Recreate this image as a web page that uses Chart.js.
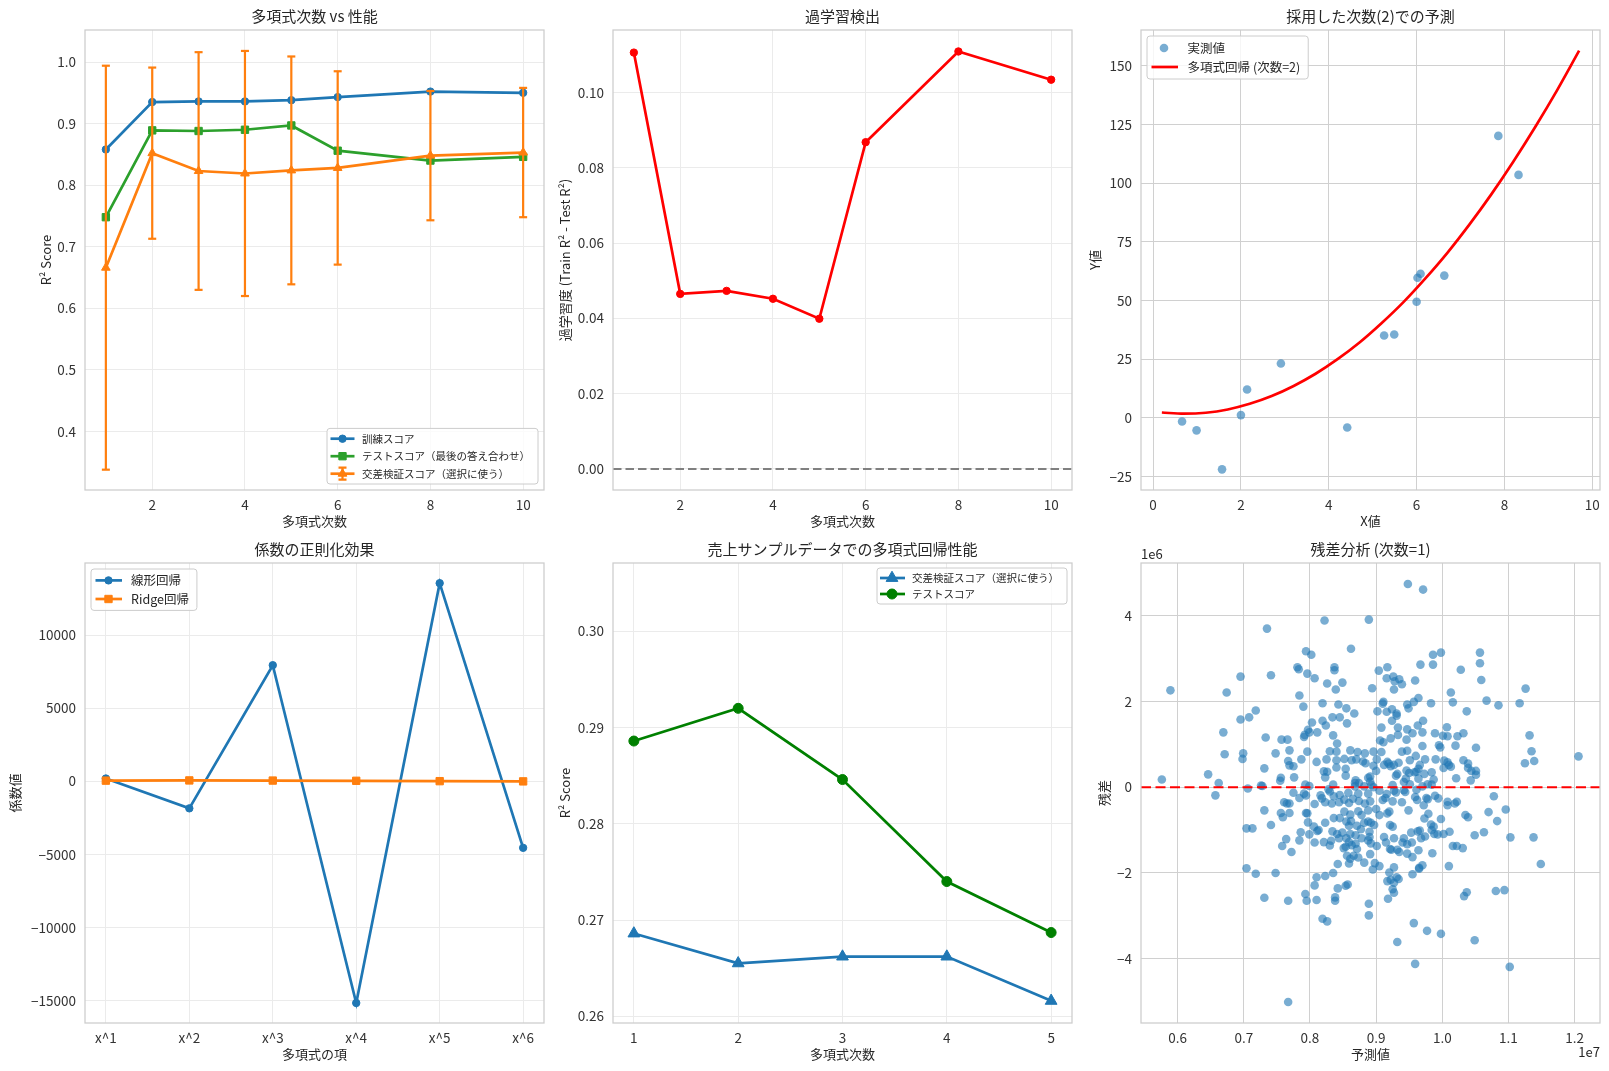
<!DOCTYPE html>
<html lang="ja">
<head>
<meta charset="utf-8">
<title>多項式回帰の評価</title>
<script src="https://cdn.jsdelivr.net/npm/chart.js@4.4.1/dist/chart.umd.min.js"></script>
<style>
  html, body { margin: 0; padding: 0; background: #fff; }
  #fig { position: relative; width: 1609px; height: 1071px; overflow: hidden; background: #fff; }
  .panel { position: absolute; width: 554px; height: 538px; }
</style>
</head>
<body>
<div id="fig">
  <div class="panel" style="left:0px;top:0px"><canvas id="c1"></canvas></div>
  <div class="panel" style="left:528px;top:0px"><canvas id="c2"></canvas></div>
  <div class="panel" style="left:1056px;top:0px"><canvas id="c3"></canvas></div>
  <div class="panel" style="left:0px;top:533px"><canvas id="c4"></canvas></div>
  <div class="panel" style="left:528px;top:533px"><canvas id="c5"></canvas></div>
  <div class="panel" style="left:1056px;top:533px"><canvas id="c6"></canvas></div>
</div>
<script>
// ---- 多項式次数 vs 性能
const degrees = [1, 2, 3, 4, 5, 6, 8, 10];
const trainScores = [0.858, 0.935, 0.936, 0.936, 0.938, 0.943, 0.952, 0.950];
const testScores = [0.748, 0.889, 0.888, 0.890, 0.897, 0.856, 0.840, 0.846];
const cvMeans = [0.666, 0.852, 0.823, 0.819, 0.824, 0.828, 0.848, 0.853];
const cvStds = [0.328, 0.139, 0.193, 0.199, 0.185, 0.157, 0.105, 0.105];

// ---- 過学習検出
const overfitGap = [0.1106, 0.0465, 0.0473, 0.0452, 0.0399, 0.0868, 0.1109, 0.1034];

// ---- 採用した次数(2)での予測
const sampleX = [0.66, 0.99, 1.57, 2.00, 2.14, 2.91, 4.42, 5.26, 5.49, 6.00, 6.02, 6.09, 6.63, 7.86, 8.32];
const sampleY = [-1.5, -5.3, -21.9, 1.2, 12.1, 23.2, -4.1, 35.1, 35.5, 49.5, 59.7, 61.4, 60.6, 120.1, 103.5];
const curveX = [0.2, 0.7, 1.2, 1.7, 2.2, 2.7, 3.2, 3.7, 4.2, 4.7, 5.2, 5.7, 6.2, 6.7, 7.2, 7.7, 8.2, 8.7, 9.2, 9.7];
const curveY = [2.3, 1.8, 2.2, 3.6, 6.0, 9.3, 13.6, 18.8, 25.0, 32.1, 40.3, 49.3, 59.4, 70.3, 82.3, 95.2, 109.1, 123.9, 139.6, 156.4];

// ---- 係数の正則化効果
const termLabels = ['x^1', 'x^2', 'x^3', 'x^4', 'x^5', 'x^6'];
const linearCoefs = [190, -1850, 7940, -15160, 13550, -4550];
const ridgeCoefs = [45, 60, 50, 35, 10, -5];

// ---- 売上サンプルデータでの多項式回帰性能
const salesDegrees = [1, 2, 3, 4, 5];
const salesCv = [0.2686, 0.2655, 0.2662, 0.2662, 0.2616];
const salesTest = [0.2886, 0.2920, 0.2846, 0.2740, 0.2687];

// ---- 残差分析 (次数=1)  予測値は 1e7、残差は 1e6 単位
const predictedValues = [
  0.948,0.971,0.822,0.889,0.735,0.862,0.794,0.802,0.986,0.998,1.057,1.057,0.967,0.986,0.781,0.783,0.837,0.837,0.917,0.904,
  0.695,0.741,0.796,0.807,0.926,0.916,0.935,0.928,1.028,0.959,1.059,0.826,0.849,0.939,1.126,0.894,0.839,0.927,0.589,0.674,
  0.784,1.013,1.067,1.085,1.117,0.790,0.819,0.843,0.911,0.910,0.983,1.016,0.947,0.964,0.957,0.949,0.718,0.708,0.695,0.855,
  0.867,0.902,0.924,0.916,0.931,0.931,1.037,0.834,0.845,0.819,0.924,0.971,0.963,0.803,0.856,0.824,0.908,0.933,1.007,0.947,
  0.797,0.799,0.792,0.811,0.791,0.835,0.955,0.970,0.989,1.001,1.023,1.032,1.008,1.132,0.669,0.733,0.757,0.766,0.922,0.933,
  0.946,0.906,0.911,0.995,1.051,1.020,0.997,0.841,0.769,0.748,0.671,0.699,0.698,0.796,0.830,0.840,0.861,0.872,0.883,0.896,
  0.908,0.939,0.947,0.970,1.135,0.767,0.787,0.810,0.825,0.840,0.852,0.863,0.870,0.880,0.884,0.901,0.917,0.919,0.927,0.934,
  0.951,0.960,0.974,0.990,1.003,1.008,1.010,1.032,1.039,1.139,1.125,1.206,0.769,0.775,0.731,0.821,0.826,0.840,0.854,0.896,
  0.900,0.912,0.922,0.932,0.946,0.950,0.958,0.961,0.966,0.964,0.973,0.984,1.002,1.013,1.039,1.044,1.051,1.051,0.646,0.756,
  0.755,0.776,0.823,0.854,0.869,0.888,0.891,0.930,0.945,0.964,0.987,1.021,1.043,0.576,0.662,0.726,0.728,0.793,0.799,0.835,
  0.868,0.874,0.891,0.893,0.925,0.942,0.951,0.978,0.984,0.706,0.828,0.830,0.868,0.882,0.896,0.905,0.927,0.942,0.961,0.970,
  0.657,0.775,0.791,0.794,0.816,0.836,0.845,0.858,0.873,0.888,0.916,0.914,0.930,0.944,0.959,0.962,0.976,0.978,0.989,0.994,
  1.078,0.784,0.761,0.765,0.769,0.796,0.807,0.818,0.823,0.833,0.844,0.852,0.859,0.865,0.874,0.883,0.891,0.910,0.925,0.939,
  0.972,1.008,1.008,1.019,1.022,0.731,0.756,0.759,0.769,0.794,0.836,0.845,0.852,0.861,0.873,0.878,0.888,0.900,0.905,0.917,
  0.920,0.949,0.979,0.973,1.070,1.083,1.096,1.035,1.039,0.704,0.713,0.741,0.797,0.806,0.823,0.855,0.859,0.862,0.871,0.882,
  0.888,0.892,0.897,0.921,0.925,0.983,0.987,0.984,0.998,0.786,0.799,0.811,0.813,0.834,0.841,0.849,0.861,0.869,0.877,0.890,
  0.890,0.912,0.942,0.953,0.963,0.966,0.974,0.988,0.993,1.011,1.002,1.049,1.063,1.103,1.138,0.764,0.784,0.807,0.821,0.832,
  0.844,0.855,0.859,0.869,0.878,0.888,0.892,0.901,0.915,0.927,0.940,0.947,0.954,0.968,0.758,0.772,0.830,0.851,0.854,0.863,
  0.871,0.891,0.921,0.923,0.932,0.935,0.947,0.955,0.964,0.985,1.016,1.022,1.031,0.856,0.861,0.866,0.873,0.859,0.882,0.898,
  0.905,0.970,0.965,1.010,1.149,0.704,0.718,0.748,0.842,0.835,0.895,0.920,0.927,0.955,0.965,0.810,0.823,0.807,0.842,0.854,
  0.857,0.917,0.922,0.931,0.934,0.927,0.925,0.927,0.731,0.767,0.793,0.795,0.810,0.838,0.838,0.918,0.889,1.033,1.037,1.081,
  1.094,0.819,0.826,0.889,0.957,0.977,0.998,0.932,1.049,0.959,1.102,0.767
];
const residualValues = [
  4.74,4.61,3.89,3.91,3.70,3.23,3.17,3.09,3.09,3.14,3.14,2.89,2.86,2.86,2.80,2.75,2.80,2.73,2.80,2.72,
  2.58,2.61,2.65,2.54,2.58,2.54,2.52,2.47,2.74,2.49,2.50,2.42,2.44,2.40,2.30,2.31,2.28,2.28,2.26,2.21,
  2.14,2.21,2.02,1.91,1.96,1.88,1.96,1.93,1.99,1.95,1.96,1.98,1.93,2.08,1.99,1.84,1.79,1.63,1.58,1.84,
  1.72,1.77,1.82,1.76,1.72,1.67,1.77,1.63,1.63,1.55,1.55,1.55,1.44,1.51,1.49,1.44,1.39,1.39,1.40,1.35,
  1.34,1.28,1.22,1.28,1.17,1.21,1.26,1.28,1.26,1.20,1.19,1.26,1.19,1.21,1.28,1.16,1.11,1.11,1.14,1.22,
  1.11,1.09,1.05,0.98,0.92,0.97,0.93,1.02,0.86,0.79,0.77,0.79,0.66,0.83,0.84,0.83,0.86,0.82,0.79,0.83,
  0.82,0.83,0.85,0.96,0.84,0.61,0.65,0.59,0.65,0.63,0.66,0.63,0.65,0.60,0.56,0.65,0.59,0.55,0.52,0.57,
  0.63,0.73,0.65,0.65,0.62,0.58,0.52,0.63,0.55,0.61,0.56,0.72,0.51,0.49,0.44,0.37,0.36,0.46,0.43,0.50,
  0.38,0.52,0.49,0.31,0.39,0.33,0.35,0.36,0.52,0.43,0.31,0.35,0.45,0.48,0.45,0.38,0.38,0.29,0.30,0.22,
  0.15,0.23,0.23,0.27,0.16,0.22,0.25,0.27,0.20,0.20,0.18,0.21,0.16,0.18,0.10,0.04,0.03,0.06,0.03,0.06,
  0.10,0.10,0.13,0.05,0.05,0.12,0.07,0.07,0.06,-0.03,-0.05,-0.10,0.02,0.02,0.00,-0.08,-0.08,-0.07,-0.06,0.02,
  -0.19,-0.13,-0.15,-0.19,-0.19,-0.21,-0.18,-0.13,-0.15,-0.15,-0.16,-0.25,-0.12,-0.11,-0.23,-0.30,-0.25,-0.28,-0.20,-0.26,
  -0.21,-0.25,-0.35,-0.38,-0.38,-0.61,-0.39,-0.26,-0.35,-0.38,-0.35,-0.29,-0.37,-0.27,-0.32,-0.38,-0.33,-0.30,-0.33,-0.35,
  -0.42,-0.34,-0.42,-0.38,-0.34,-0.54,-0.60,-0.70,-0.60,-0.60,-0.72,-0.72,-0.57,-0.64,-0.56,-0.65,-0.54,-0.51,-0.65,-0.61,
  -0.57,-0.54,-0.62,-0.73,-0.58,-0.79,-0.52,-0.65,-0.70,-0.96,-0.96,-0.88,-0.82,-0.92,-0.83,-0.80,-0.90,-0.79,-0.90,-0.83,
  -0.80,-0.83,-0.88,-0.88,-0.92,-0.87,-0.92,-1.00,-0.74,-1.05,-1.10,-1.02,-1.00,-1.03,-1.09,-1.06,-1.09,-1.12,-0.98,-1.04,
  -1.16,-1.16,-1.19,-1.06,-1.03,-1.01,-1.15,-1.09,-1.10,-1.04,-1.09,-1.12,-1.05,-1.17,-1.17,-1.21,-1.24,-1.29,-1.28,-1.25,
  -1.19,-1.19,-1.28,-1.32,-1.19,-1.24,-1.31,-1.37,-1.29,-1.19,-1.29,-1.33,-1.29,-1.19,-1.37,-1.51,-1.36,-1.42,-1.39,-1.35,
  -1.44,-1.56,-1.44,-1.46,-1.46,-1.51,-1.55,-1.63,-1.47,-1.54,-1.37,-1.37,-1.42,-1.60,-1.67,-1.60,-1.64,-1.78,-1.76,-1.77,
  -1.84,-1.82,-1.90,-1.84,-1.79,-1.89,-2.02,-2.00,-1.79,-2.00,-1.92,-1.99,-1.87,-2.03,-1.88,-2.10,-2.07,-2.29,-2.36,-2.30,
  -2.27,-2.19,-2.16,-2.10,-2.14,-2.23,-2.38,-2.46,-2.58,-2.65,-2.49,-2.65,-2.63,-2.57,-2.65,-2.60,-2.72,-2.54,-2.45,-2.42,
  -2.40,-3.07,-3.13,-2.99,-3.17,-3.35,-3.42,-3.61,-3.57,-4.12,-4.19,-5.01
];

const FONT = '"Noto Sans CJK JP", "Noto Sans", sans-serif';
const BLUE = '#1f77b4', ORANGE = '#ff7f0e', GREEN = '#2ca02c';
const FAINT = '#ebebeb', GRID = '#d0d0d0';

Chart.defaults.font.family = FONT;
Chart.defaults.color = '#333333';

function num(v, d) {
  return (v < -1e-9 ? '\u2212' : '') + Math.abs(v).toFixed(d);
}

function drawMarker(ctx, style, x, y, r, color, alpha) {
  ctx.save();
  ctx.fillStyle = color;
  ctx.strokeStyle = color;
  ctx.lineWidth = 1;
  ctx.beginPath();
  if (style === 'circle') {
    ctx.arc(x, y, r, 0, Math.PI * 2);
  } else if (style === 'rect') {
    const s = r * Math.SQRT1_2;
    ctx.rect(x - s, y - s, 2 * s, 2 * s);
  } else if (style === 'triangle') {
    const a = 2 * Math.PI / 3;
    ctx.moveTo(x, y - r);
    ctx.lineTo(x + r * Math.sin(a), y - r * Math.cos(a));
    ctx.lineTo(x - r * Math.sin(a), y - r * Math.cos(a));
    ctx.closePath();
  }
  if (alpha) {
    ctx.globalAlpha = alpha;
    ctx.fill();
  } else {
    ctx.fill();
    ctx.stroke();
  }
  ctx.restore();
}

function drawLegend(ctx, a, lg) {
  ctx.font = lg.size + 'px ' + FONT;
  let tw = 0;
  lg.items.forEach(it => { tw = Math.max(tw, ctx.measureText(it.label).width); });
  const w = lg.textX + tw + 8;
  const h = lg.row0 * 2 + lg.rowGap * (lg.items.length - 1);
  const x0 = lg.corner[1] === 'l' ? a.left + lg.pad : a.right - lg.pad - w;
  const y0 = lg.corner[0] === 'u' ? a.top + lg.pad : a.bottom - lg.pad - h;
  ctx.beginPath();
  ctx.roundRect(x0, y0, w, h, 3);
  ctx.fillStyle = 'rgba(255,255,255,0.8)';
  ctx.fill();
  ctx.strokeStyle = '#cccccc';
  ctx.lineWidth = 1;
  ctx.stroke();
  lg.items.forEach((it, i) => {
    const cy = y0 + lg.row0 + i * lg.rowGap;
    const mx = x0 + lg.markX;
    if (it.line) {
      ctx.beginPath();
      ctx.moveTo(x0 + lg.lineX0, cy);
      ctx.lineTo(x0 + lg.lineX1, cy);
      ctx.strokeStyle = it.color;
      ctx.lineWidth = 2.7;
      ctx.stroke();
    }
    if (it.errorbar) {
      ctx.beginPath();
      ctx.moveTo(mx, cy - 6); ctx.lineTo(mx, cy + 6);
      ctx.moveTo(mx - 4, cy - 6); ctx.lineTo(mx + 4, cy - 6);
      ctx.moveTo(mx - 4, cy + 6); ctx.lineTo(mx + 4, cy + 6);
      ctx.strokeStyle = it.color;
      ctx.lineWidth = 2.2;
      ctx.stroke();
    }
    if (it.marker) drawMarker(ctx, it.marker, mx, cy, it.r, it.color, it.alpha);
    ctx.fillStyle = '#262626';
    ctx.textAlign = 'left';
    ctx.textBaseline = 'middle';
    ctx.fillText(it.label, x0 + lg.textX, cy);
  });
}

// 各パネルの枠・タイトル・軸ラベル・凡例
const decorSpecs = {};
const decor = {
  id: 'decor',
  afterDatasetsDraw(chart) {
    const o = decorSpecs[chart.canvas.id];
    if (!o) return;
    const ctx = chart.ctx, a = chart.chartArea;
    ctx.save();
    ctx.strokeStyle = '#cccccc';
    ctx.lineWidth = 1.25;
    ctx.strokeRect(a.left, a.top, a.right - a.left, a.bottom - a.top);
    if (o.legend) drawLegend(ctx, a, o.legend);
    ctx.fillStyle = '#262626';
    ctx.textAlign = 'center';
    ctx.textBaseline = 'middle';
    ctx.font = '15px ' + FONT;
    ctx.fillText(o.title, (a.left + a.right) / 2, a.top - 14);
    ctx.font = '13px ' + FONT;
    ctx.fillText(o.xLabel, (a.left + a.right) / 2, a.bottom + 31);
    ctx.save();
    ctx.translate(a.left - o.yGap, (a.top + a.bottom) / 2);
    ctx.rotate(-Math.PI / 2);
    ctx.fillText(o.yLabel, 0, 0);
    ctx.restore();
    ctx.font = '13px ' + FONT;
    if (o.yOffset) {
      ctx.textAlign = 'left';
      ctx.fillText(o.yOffset, a.left, a.top - 9);
    }
    if (o.xOffset) {
      ctx.textAlign = 'right';
      ctx.fillText(o.xOffset, a.right, a.bottom + 29);
    }
    ctx.restore();
  }
};

function axis(pos, min, max, step, fmt, grid) {
  return {
    type: 'linear',
    position: pos,
    min: min,
    max: max,
    grid: { color: grid, lineWidth: 1, drawTicks: false },
    border: { display: false },
    ticks: {
      stepSize: step,
      includeBounds: false,
      autoSkip: false,
      maxRotation: 0,
      padding: pos === 'left' ? 9 : 7,
      color: '#333333',
      font: { size: 13.5 },
      callback: fmt
    },
    // 目盛りは step の倍数だけにする
    afterBuildTicks: s => {
      const t = [];
      for (let k = Math.ceil(min / step - 1e-9); k * step <= max + 1e-9; k++) {
        t.push({ value: +(k * step).toFixed(6) });
      }
      s.ticks = t;
    },
    afterFit: s => { if (pos === 'left') s.width = 85; else s.height = 48; }
  };
}

function makeChart(id, datasets, xAxis, yAxis, spec) {
  decorSpecs[id] = spec;
  return new Chart(document.getElementById(id), {
    type: 'line',
    data: { datasets: datasets },
    options: {
      responsive: true,
      maintainAspectRatio: false,
      animation: false,
      events: [],
      layout: { padding: { top: 30, right: 10, left: 0, bottom: 0 } },
      plugins: { legend: { display: false }, tooltip: { enabled: false }, title: { display: false } },
      scales: { x: xAxis, y: yAxis }
    },
    plugins: [decor]
  });
}

function lineSet(xs, ys, color, style, r, extra) {
  return Object.assign({
    data: xs.map((x, i) => ({ x: x, y: ys[i] })),
    borderColor: color,
    backgroundColor: color,
    borderWidth: 2.7,
    pointStyle: style,
    pointRadius: r,
    pointBorderWidth: 1,
    pointBackgroundColor: color,
    pointBorderColor: color,
    tension: 0
  }, extra || {});
}

// 1: 多項式次数 vs 性能
const errData = [];
degrees.forEach((d, i) => {
  errData.push({ x: d, y: cvMeans[i] - cvStds[i] });
  errData.push({ x: d, y: cvMeans[i] + cvStds[i] });
  errData.push({ x: d, y: null });
});
makeChart('c1', [
  { data: errData, borderColor: ORANGE, borderWidth: 2.2, pointStyle: 'line', pointRadius: 4,
    pointBorderWidth: 2.2, pointBorderColor: ORANGE, spanGaps: false },
  lineSet(degrees, cvMeans, ORANGE, 'triangle', 5),
  lineSet(degrees, testScores, GREEN, 'rect', 5.2),
  lineSet(degrees, trainScores, BLUE, 'circle', 3.7)
], axis('bottom', 0.55, 10.45, 2, v => num(v, 0), FAINT),
   axis('left', 0.305, 1.052, 0.1, v => num(v, 1), FAINT), {
  title: '多項式次数 vs 性能', xLabel: '多項式次数', yLabel: 'R² Score', yGap: 39,
  legend: { size: 10.5, corner: 'lr', pad: 6, row0: 10.3, rowGap: 17.5, lineX0: 3.5, lineX1: 27.5, markX: 15.5, textX: 35,
    items: [
      { label: '訓練スコア', color: BLUE, line: true, marker: 'circle', r: 3.7 },
      { label: 'テストスコア（最後の答え合わせ）', color: GREEN, line: true, marker: 'rect', r: 5.2 },
      { label: '交差検証スコア（選択に使う）', color: ORANGE, line: true, marker: 'triangle', r: 5, errorbar: true }
    ] }
});

// 2: 過学習検出
makeChart('c2', [
  { data: [{ x: 0.55, y: 0 }, { x: 10.45, y: 0 }], borderColor: '#808080', borderWidth: 2,
    borderDash: [8.5, 4], pointRadius: 0 },
  lineSet(degrees, overfitGap, '#ff0000', 'circle', 3.7)
], axis('bottom', 0.55, 10.45, 2, v => num(v, 0), FAINT),
   axis('left', -0.0056, 0.1166, 0.02, v => num(v, 2), FAINT), {
  title: '過学習検出', xLabel: '多項式次数', yLabel: '過学習度 (Train R² - Test R²)', yGap: 47.5
});

// 3: 採用した次数(2)での予測
makeChart('c3', [
  lineSet(curveX, curveY, '#ff0000', 'circle', 0, { cubicInterpolationMode: 'monotone' }),
  { data: sampleX.map((x, i) => ({ x: x, y: sampleY[i] })), showLine: false,
    pointStyle: 'circle', pointRadius: 4.3, pointBorderWidth: 0,
    pointBackgroundColor: 'rgba(31,119,180,0.6)', backgroundColor: 'rgba(31,119,180,0.6)' }
], axis('bottom', -0.275, 10.175, 2, v => num(v, 0), GRID),
   axis('left', -30.7, 165.2, 25, v => num(v, 0), GRID), {
  title: '採用した次数(2)での予測', xLabel: 'X値', yLabel: 'Y値', yGap: 46,
  legend: { size: 12.5, corner: 'ul', pad: 6, row0: 12, rowGap: 19, lineX0: 4.5, lineX1: 31, markX: 17, textX: 40.6,
    items: [
      { label: '実測値', color: BLUE, marker: 'circle', r: 4.3, alpha: 0.6 },
      { label: '多項式回帰 (次数=2)', color: '#ff0000', line: true }
    ] }
});

// 4: 係数の正則化効果
const termIdx = termLabels.map((t, i) => i);
makeChart('c4', [
  lineSet(termIdx, ridgeCoefs, ORANGE, 'rect', 5.2),
  lineSet(termIdx, linearCoefs, BLUE, 'circle', 3.7)
], axis('bottom', -0.25, 5.25, 1, v => termLabels[Math.round(v)] || '', FAINT),
   axis('left', -16530, 14930, 5000, v => num(v, 0), FAINT), {
  title: '係数の正則化効果', xLabel: '多項式の項', yLabel: '係数値', yGap: 69.5,
  legend: { size: 12.5, corner: 'ul', pad: 6, row0: 11.4, rowGap: 18.6, lineX0: 4.5, lineX1: 31, markX: 17.5, textX: 40,
    items: [
      { label: '線形回帰', color: BLUE, line: true, marker: 'circle', r: 3.7 },
      { label: 'Ridge回帰', color: ORANGE, line: true, marker: 'rect', r: 5.2 }
    ] }
});

// 5: 売上サンプルデータでの多項式回帰性能
makeChart('c5', [
  lineSet(salesDegrees, salesCv, BLUE, 'triangle', 6.8),
  lineSet(salesDegrees, salesTest, '#008000', 'circle', 5)
], axis('bottom', 0.8, 5.2, 1, v => num(v, 0), FAINT),
   axis('left', 0.2593, 0.3071, 0.01, v => num(v, 2), FAINT), {
  title: '売上サンプルデータでの多項式回帰性能', xLabel: '多項式次数', yLabel: 'R² Score', yGap: 48,
  legend: { size: 10.5, corner: 'ur', pad: 5, row0: 10, rowGap: 16, lineX0: 3, lineX1: 28, markX: 15, textX: 35,
    items: [
      { label: '交差検証スコア（選択に使う）', color: BLUE, line: true, marker: 'triangle', r: 6.8 },
      { label: 'テストスコア', color: '#008000', line: true, marker: 'circle', r: 5 }
    ] }
});

// 6: 残差分析 (次数=1)
makeChart('c6', [
  { data: [{ x: 0.5445, y: 0 }, { x: 1.2385, y: 0 }], borderColor: '#ff0000', borderWidth: 2,
    borderDash: [10, 4.5], pointRadius: 0 },
  { data: predictedValues.map((x, i) => ({ x: x, y: residualValues[i] })), showLine: false,
    pointStyle: 'circle', pointRadius: 4.3, pointBorderWidth: 0,
    pointBackgroundColor: 'rgba(31,119,180,0.6)', backgroundColor: 'rgba(31,119,180,0.6)' }
], axis('bottom', 0.5445, 1.2385, 0.1, v => num(v, 1), GRID),
   axis('left', -5.50, 5.23, 2, v => num(v, 0), GRID), {
  title: '残差分析 (次数=1)', xLabel: '予測値', yLabel: '残差', yGap: 37,
  yOffset: '1e6', xOffset: '1e7'
});
</script>
</body>
</html>
